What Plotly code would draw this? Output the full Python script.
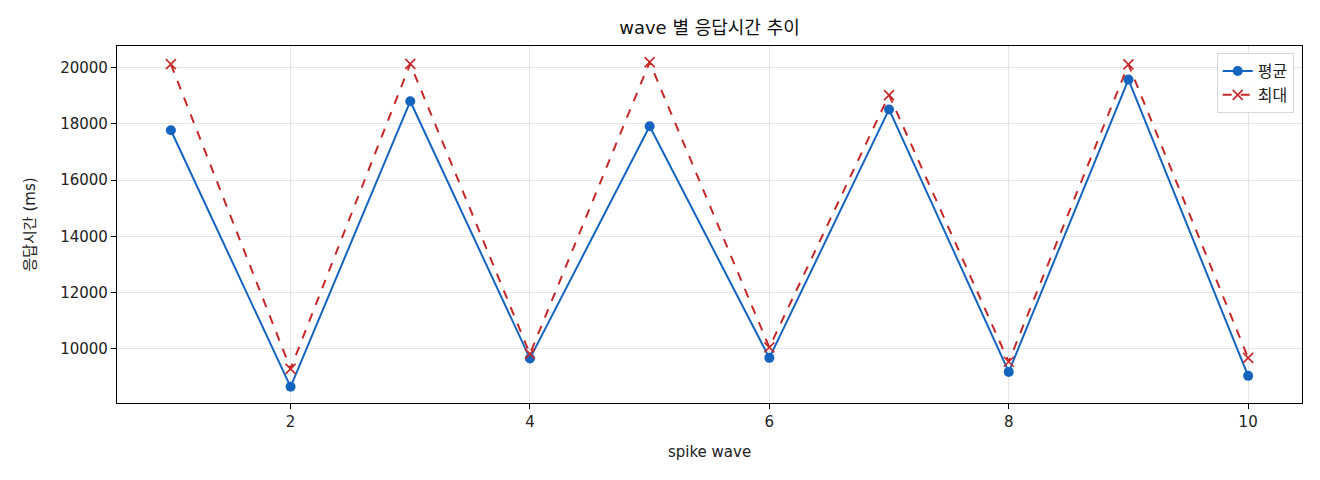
import plotly.graph_objects as go

waves = [1, 2, 3, 4, 5, 6, 7, 8, 9, 10]
avg_ms = [17770, 8650, 18800, 9660, 17910, 9680, 18510, 9180, 19570, 9040]
max_ms = [20120, 9290, 20130, 9820, 20190, 10050, 19020, 9540, 20110, 9680]
x_ticks = [2, 4, 6, 8, 10]
y_ticks = [10000, 12000, 14000, 16000, 18000, 20000]

FONT = "DejaVu Sans, Noto Sans CJK KR, sans-serif"
BLUE = "#1565C0"
RED = "#C62828"

fig = go.Figure()
fig.add_trace(go.Scatter(
    x=waves, y=avg_ms, name="평균", mode="lines+markers",
    line=dict(color=BLUE, width=2),
    marker=dict(symbol="circle", size=10, color=BLUE),
))
fig.add_trace(go.Scatter(
    x=waves, y=max_ms, name="최대", mode="lines+markers",
    line=dict(color=RED, width=2, dash="dash"),
    marker=dict(symbol="x-thin", size=10, color=RED, line=dict(color=RED, width=1.6)),
))

# page body has an 8px margin; figure sized/margined to compensate
fig.update_layout(
    width=1304, height=464,
    margin=dict(l=109, r=10, t=38, b=69),
    paper_bgcolor="white", plot_bgcolor="white",
    font=dict(family=FONT, size=15, color="#222"),
    title=dict(text="wave 별 응답시간 추이", xref="paper", x=0.5, xanchor="center",
               y=1 - 20 / 464, yanchor="middle", font=dict(size=18, color="#111")),
    showlegend=True,
    legend=dict(x=0.993, y=0.98, xanchor="right", yanchor="top",
                bgcolor="rgba(255,255,255,0.9)", bordercolor="#d8d8d8", borderwidth=1,
                font=dict(size=16), tracegroupgap=2),
)
fig.update_xaxes(
    range=[0.55, 10.45], tickvals=x_ticks, ticktext=[str(t) for t in x_ticks],
    showgrid=True, gridcolor="rgba(0,0,0,0.1)", gridwidth=1,
    showline=True, linecolor="black", linewidth=1.2, mirror=True,
    ticks="outside", ticklen=5, tickcolor="black", zeroline=False,
    title=dict(text="spike wave", font=dict(size=15), standoff=16),
)
fig.update_yaxes(
    range=[8075, 20765], tickvals=y_ticks, ticktext=[str(t) for t in y_ticks],
    showgrid=True, gridcolor="rgba(0,0,0,0.1)", gridwidth=1,
    showline=True, linecolor="black", linewidth=1.2, mirror=True,
    ticks="outside", ticklen=5, tickcolor="black", zeroline=False,
    title=dict(text="응답시간 (ms)", font=dict(size=15), standoff=20),
)

fig.write_html("out.html")
